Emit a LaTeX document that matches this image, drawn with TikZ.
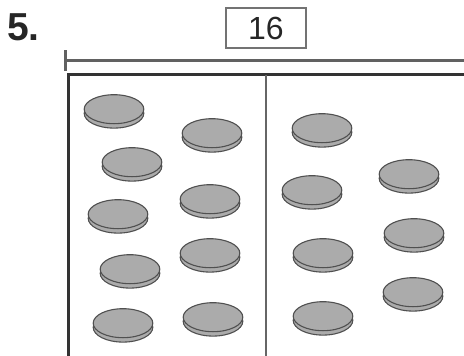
\documentclass[tikz,border=0pt]{standalone}
\usepackage{fontspec}
\setmainfont{Liberation Sans}
\begin{document}
\begin{tikzpicture}[x=1pt,y=-1pt]
\definecolor{coinfill}{HTML}{ABABAB}
\definecolor{coinedge}{HTML}{505050}
\definecolor{frame}{HTML}{333333}
\tikzset{
  coinline/.style={draw=coinedge, line width=1.1pt, fill=coinfill},
  coin/.pic={
    \path[coinline] (0,2.3) ellipse [x radius=29.8pt, y radius=14.8pt];
    \path[coinline] (0,-1.8) ellipse [x radius=29.8pt, y radius=14.5pt];
  },
  framebox/.style={draw=frame, line width=3pt},
  barline/.style={draw=black!62, line width=2.2pt},
  divider/.style={draw=black!60, line width=1.6pt},
  labelbox/.style={draw=black!55, line width=1.2pt, minimum width=80pt, minimum height=40pt, inner sep=0pt, text=black!85, font=\fontsize{32}{32}\selectfont},
  numlabel/.style={font=\fontsize{39}{39}\selectfont\bfseries, text=black!85, inner sep=0pt, anchor=base west}
}
\useasboundingbox (0,0) rectangle (464,356);
\clip (0,0) rectangle (464,356);
\node[numlabel] (num) at (7,40) {5.};
\node[labelbox] (total) at (266,28) {16};
% bar
\coordinate (tickT) at (65.5,50);
\coordinate (tickB) at (65.5,71);
\coordinate (barL) at (65.5,60.5);
\coordinate (barR) at (470,60.5);
\draw[barline] (tickT) -- (tickB);
\draw[barline] (barL) -- (barR);
% frame
\coordinate (fBL) at (68,360);
\coordinate (fTL) at (68,74.5);
\coordinate (fTR) at (470,74.5);
\draw[framebox] (fBL) -- (fTL) -- (fTR);
\coordinate (dT) at (266,74.5);
\coordinate (dB) at (266,360);
\draw[divider] (dT) -- (dB);
% coins left part
\foreach \cx/\cy in {114/111, 132/164, 118/216, 130/271, 123/325,
                     212/135, 210/201, 210/255, 213/319}
  \pic at (\cx,\cy) {coin};
% coins right part
\foreach \cx/\cy in {322/130, 312/192, 323/255, 323/318,
                     409/176, 414/235, 413/294}
  \pic at (\cx,\cy) {coin};
\end{tikzpicture}
\end{document}
